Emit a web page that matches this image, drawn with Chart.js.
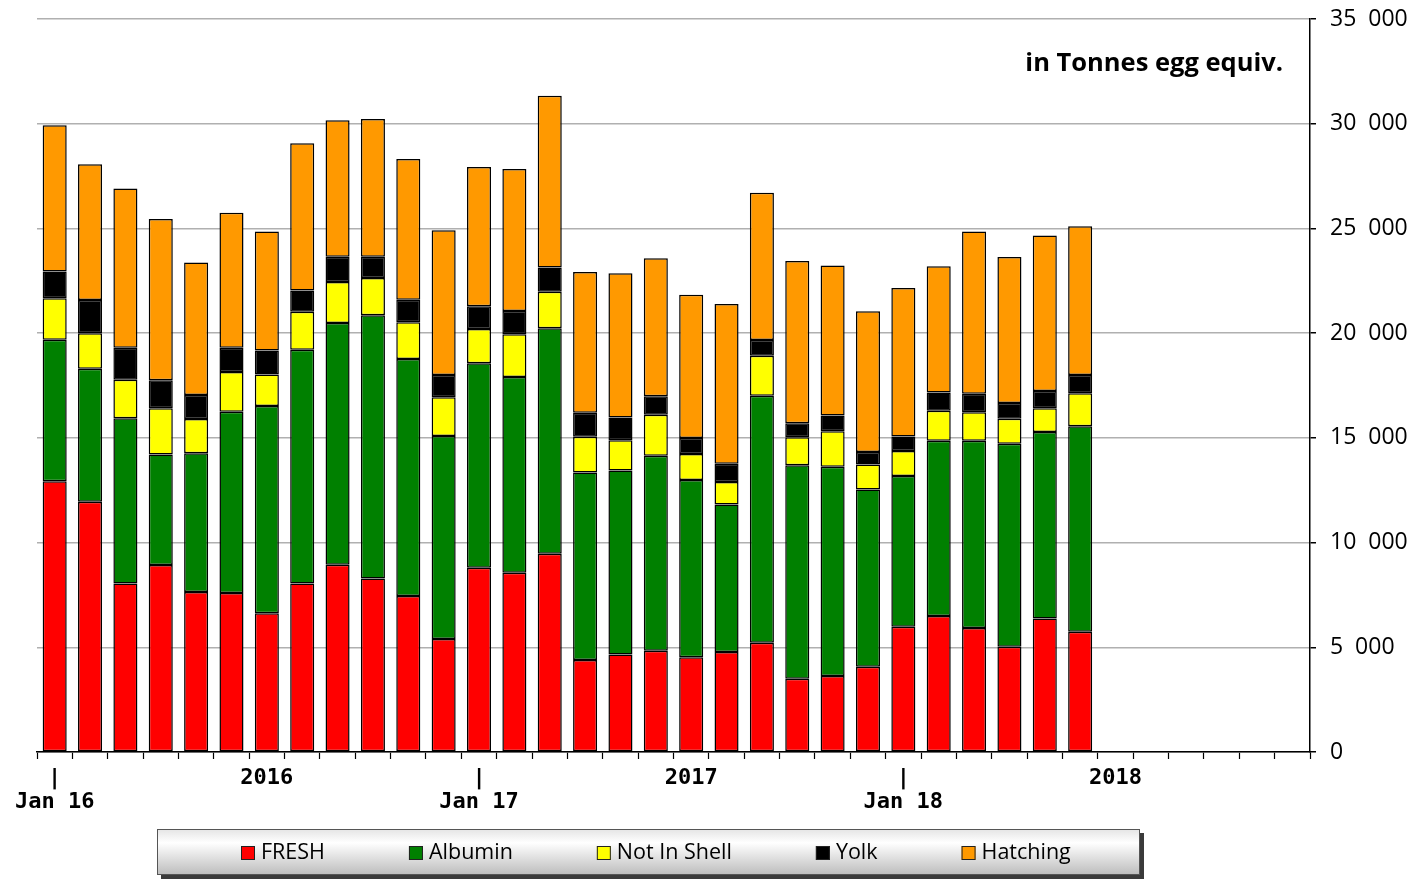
<!DOCTYPE html>
<html>
<head>
<meta charset="utf-8">
<script src="https://cdn.jsdelivr.net/npm/chart.js@4"></script>
<style>
  html, body { margin: 0; padding: 0; background: #ffffff; }
  #wrap { width: 1419px; height: 879px; position: relative; }
</style>
</head>
<body>
<div id="wrap"><canvas id="c"></canvas></div>
<script>
// ---- data ----
const categories = [
  'Jan 16','Feb 16','Mar 16','Apr 16','May 16','Jun 16','Jul 16','Aug 16','Sep 16','Oct 16','Nov 16','Dec 16',
  'Jan 17','Feb 17','Mar 17','Apr 17','May 17','Jun 17','Jul 17','Aug 17','Sep 17','Oct 17','Nov 17','Dec 17',
  'Jan 18','Feb 18','Mar 18','Apr 18','May 18','Jun 18','Jul 18','Aug 18','Sep 18','Oct 18','Nov 18','Dec 18'
];
const fresh      = [12930, 11950, 8040, 8930, 7640, 7590, 6620, 8040, 8940, 8290, 7450, 5400, 8800, 8560, 9470, 4390, 4650, 4840, 4520, 4770, 5220, 3500, 3630, 4070, 5980, 6490, 5920, 5030, 6380, 5740];
const albumin    = [6750, 6350, 7900, 5270, 6620, 8660, 9900, 11170, 11540, 12570, 11320, 9690, 9760, 9340, 10760, 8960, 8790, 9300, 8470, 7050, 11790, 10190, 9990, 8470, 7200, 8370, 8940, 9690, 8900, 9810];
const notInShell = [1990, 1690, 1830, 2215, 1640, 1900, 1500, 1810, 1960, 1770, 1750, 1850, 1640, 2050, 1750, 1700, 1450, 1960, 1240, 1070, 1910, 1340, 1700, 1190, 1190, 1430, 1360, 1190, 1130, 1580];
const yolk       = [1270, 1590, 1530, 1340, 1150, 1150, 1150, 1020, 1210, 1020, 1080, 1060, 1080, 1110, 1150, 1150, 1080, 890, 760, 870, 750, 670, 750, 590, 700, 880, 890, 750, 830, 870];
const hatching   = [6990, 6480, 7610, 7690, 6320, 6450, 5680, 7030, 6510, 6580, 6720, 6910, 6650, 6780, 8200, 6720, 6890, 6590, 6840, 7630, 7030, 7750, 7160, 6730, 7080, 6020, 7740, 6970, 7420, 7100];

const seriesNames = ['FRESH', 'Albumin', 'Not In Shell', 'Yolk', 'Hatching'];
const tickIndex = [0, 6, 12, 18, 24, 30];
const tickLine1 = ['|', '2016', '|', '2017', '|', '2018'];
const tickLine2 = ['Jan 16', '', 'Jan 17', '', 'Jan 18', ''];
const unitLabel = 'in Tonnes egg equiv.';
const yMax = 35000, yStep = 5000;

// ---- styles ----
const colors = ['#ff0000', '#008000', '#ffff00', '#000000', '#ff9900'];
const seriesData = [fresh, albumin, notInShell, yolk, hatching];

function fmt(v) {
  if (v < 1000) return String(v);
  const t = Math.floor(v / 1000), r = v % 1000;
  return t + '  ' + String(r).padStart(3, '0');
}

const legendPlugin = {
  id: 'boxLegend',
  afterDraw(chart) {
    const ctx = chart.ctx;
    const bx = 157, by = 829, bw = 983, bh = 46;
    ctx.save();
    ctx.fillStyle = '#3a3a3a';
    ctx.fillRect(bx + 4, by + 4, bw, bh);
    const g = ctx.createLinearGradient(0, by, 0, by + bh);
    g.addColorStop(0, '#e4e4e4');
    g.addColorStop(0.3, '#ffffff');
    g.addColorStop(1, '#bcbcbc');
    ctx.fillStyle = g;
    ctx.fillRect(bx, by, bw, bh);
    ctx.strokeStyle = '#555';
    ctx.lineWidth = 1;
    ctx.strokeRect(bx + 0.5, by + 0.5, bw - 1, bh - 1);
    ctx.font = '21.5px "Open Sans"';
    ctx.textBaseline = 'middle';
    ctx.textAlign = 'left';
    let x = 241;
    const cy = by + 24;
    chart.data.datasets.forEach(ds => {
      ctx.fillStyle = ds.backgroundColor;
      ctx.fillRect(x, cy - 7, 14, 14);
      ctx.strokeStyle = '#222';
      ctx.strokeRect(x + 0.5, cy - 6.5, 13, 13);
      ctx.fillStyle = '#000';
      ctx.fillText(ds.label, x + 20, cy);
      x += 20 + ctx.measureText(ds.label).width + 84;
    });
    ctx.restore();
  }
};

const unitPlugin = {
  id: 'unitText',
  afterDraw(chart) {
    const ctx = chart.ctx;
    ctx.save();
    ctx.font = 'bold 25.5px "Open Sans"';
    ctx.fillStyle = '#000';
    ctx.textAlign = 'right';
    ctx.textBaseline = 'alphabetic';
    ctx.fillText(unitLabel, 1283, 71);
    ctx.restore();
  }
};

new Chart(document.getElementById('c'), {
  type: 'bar',
  data: {
    labels: categories,
    datasets: seriesNames.map((n, i) => ({
      label: n,
      data: seriesData[i],
      backgroundColor: colors[i],
      borderColor: '#000000',
      borderWidth: 1.5,
      borderSkipped: false,
      barPercentage: 0.68,
      categoryPercentage: 1.0
    }))
  },
  options: {
    responsive: true,
    maintainAspectRatio: false,
    animation: false,
    layout: { padding: { left: 37, top: 19, right: 0, bottom: 60 } },
    plugins: {
      legend: { display: false },
      tooltip: { enabled: false },
      title: { display: false }
    },
    scales: {
      x: {
        type: 'category',
        stacked: true,
        offset: true,
        grid: {
          display: true, drawOnChartArea: false, drawTicks: true,
          tickLength: 7, tickColor: '#000', tickWidth: 1.2, offset: true
        },
        border: { display: true, color: '#000', width: 1.5 },
        ticks: {
          autoSkip: false, maxRotation: 0, minRotation: 0, padding: 7,
          color: '#000',
          font: { family: '"DejaVu Sans Mono"', size: 22, weight: 'bold', lineHeight: 1.1 },
          callback: function (v, index) {
            const k = tickIndex.indexOf(index);
            return k >= 0 ? [tickLine1[k], tickLine2[k]] : '';
          }
        },
        afterFit(scale) { scale.height = 67; scale.paddingLeft = 0; scale.paddingRight = 0; }
      },
      y: {
        stacked: true,
        position: 'right',
        min: 0, max: yMax,
        grid: { color: '#b0b0b0', lineWidth: 1.5, tickLength: 6, tickColor: '#000', drawTicks: true },
        border: { display: true, color: '#000', width: 1.5 },
        ticks: {
          stepSize: yStep, padding: 14, color: '#000',
          font: { family: '"Open Sans"', size: 23 },
          callback: v => fmt(v)
        },
        afterFit(scale) { scale.width = 109; scale.paddingTop = 0; scale.paddingBottom = 0; }
      }
    }
  },
  plugins: [legendPlugin, unitPlugin]
});
</script>
</body>
</html>
